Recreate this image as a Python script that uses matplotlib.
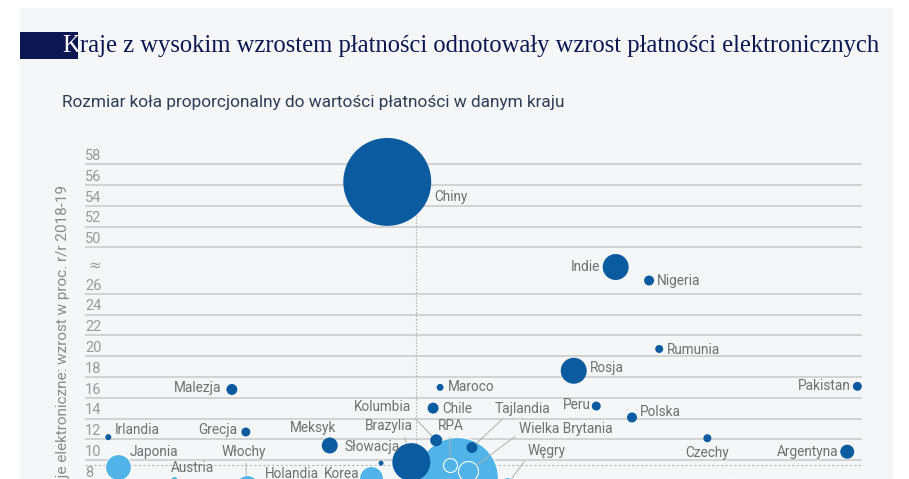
import matplotlib.pyplot as plt
from matplotlib.patches import Rectangle
import matplotlib.transforms as mtransforms

# dane (os x w umownych jednostkach 0-100)
kraje = ['Chiny', 'Indie', 'Nigeria', 'Rumunia', 'Rosja', 'Pakistan', 'Malezja', 'Maroco',
         'Peru', 'Chile', 'Polska', 'Czechy', 'Argentyna', 'Irlandia', 'Grecja', 'Meksyk',
         'Kolumbia', 'Tajlandia', 'Brazylia', 'Słowacja', 'RPA', 'USA', 'Wielka Brytania',
         'Węgry', 'Japonia', 'Austria', 'Włochy', 'Korea', 'Holandia', 'Hiszpania']
wzrost_ogolem = [38.9, 68.3, 72.6, 73.9, 62.9, 99.4, 18.9, 45.7,
                 65.8, 44.8, 70.4, 80.1, 98.1, 3.0, 20.7, 31.5,
                 45.2, 49.8, 42.0, 38.1, 47.0, 47.9, 49.3,
                 54.3, 4.2, 11.5, 20.8, 36.8, 26.3, 83.1]
wzrost_elektr = [56.3, 28.6, 27.3, 20.7, 18.6, 17.1, 16.8, 17.0,
                 15.2, 15.0, 14.1, 12.1, 10.8, 12.2, 12.7, 11.4,
                 11.9, 11.2, 9.8, 9.7, 9.5, 8.3, 8.9,
                 7.6, 9.3, 8.1, 7.4, 8.3, 6.0, 7.6]
wartosc = [1936, 169, 25, 16, 169, 20, 30, 12,
           20, 30, 25, 16, 49, 9, 20, 64,
           36, 30, 361, 6, 49, 1681, 100,
           64, 169, 16, 144, 144, 100, 49]
rozwiniete = [0, 0, 0, 0, 0, 0, 0, 0,
              0, 0, 0, 0, 0, 0, 0, 0,
              0, 0, 0, 0, 1, 1, 1,
              1, 1, 1, 1, 1, 1, 1]
y_ticks = [8, 10, 12, 14, 16, 18, 20, 22, 24, 26, 50, 52, 54, 56, 58]
srednia_x = 42.6
srednia_y = 9.5

# pozycje etykiet (przesuniecie w pikselach, wyrownanie, linia odniesienia)
etykiety = {
    'Chiny': (47, -15, 'left', None), 'Indie': (-16, 0, 'right', None),
    'Nigeria': (8, -1, 'left', None), 'Rumunia': (8, -1, 'left', None),
    'Rosja': (16, 3, 'left', None), 'Pakistan': (-7, 0, 'right', None),
    'Malezja': (-10, 1, 'right', None), 'Maroco': (8, 0, 'left', None),
    'Peru': (-6, 1, 'right', None), 'Chile': (9, -1, 'left', None),
    'Polska': (8, 5, 'left', None), 'Czechy': (0, -15, 'center', None),
    'Argentyna': (-9, 0, 'right', None), 'Irlandia': (6, 7, 'left', None),
    'Grecja': (-8, 2, 'right', None), 'Meksyk': (-17, 17, 'center', None),
    'Kolumbia': (-25, 33, 'right', (1.0, 0.0)), 'Tajlandia': (51, 39, 'center', (0.2, 0.0)),
    'Brazylia': (2, 36, 'right', (0.8, 0.0)), 'Słowacja': (-37, 16, 'left', None),
    'RPA': (1, 39, 'center', (0.45, 0.0)), 'Wielka Brytania': (51, 42, 'left', (0.0, 0.2)),
    'Węgry': (21, 34, 'left', (0.0, 0.1)), 'Japonia': (12, 15, 'left', None),
    'Austria': (-4, 12, 'left', None), 'Włochy': (-3, 35, 'center', (0.55, 0.0)),
    'Korea': (-11, 4, 'right', None), 'Holandia': (-24, 28, 'left', None),
}

CIEMNY = '#0a5ba0'
JASNY = '#50b4e8'
TLO = '#f5f6f8'
W, H = 909, 479


def brk(v):
    # os y z przerwa miedzy 26 a 50
    return v if v < 30 else v - 19.5


plt.rcParams['font.family'] = ['Roboto', 'DejaVu Sans']

fig = plt.figure(figsize=(W / 100, H / 100), dpi=100)
fig.patch.set_facecolor('white')
fig.add_artist(Rectangle((20 / W, 0), (893 - 20) / W, (H - 8) / H, transform=fig.transFigure,
                         facecolor=TLO, edgecolor='none', zorder=0))

# tytul: biale K na granatowym pasku, reszta obok
serif = ['Liberation Serif', 'DejaVu Serif']
fig.add_artist(Rectangle((20 / W, (H - 59) / H), 58 / W, 27 / H, transform=fig.transFigure,
                         facecolor='#0c1650', edgecolor='none', zorder=1))
k_txt = fig.text(62 / W, (H - 46) / H, 'K', color='white', fontsize=17.7, va='center',
                 ha='left', family=serif, zorder=3)
renderer = fig.canvas.get_renderer()
k_box = k_txt.get_window_extent(renderer)
fig.text(k_box.x1 / W, (H - 46) / H,
         'raje z wysokim wzrostem płatności odnotowały wzrost płatności elektronicznych',
         color='#0c1650', fontsize=17.7, va='center', ha='left', family=serif, zorder=2)
fig.text(62 / W, (H - 103) / H, 'Rozmiar koła proporcjonalny do wartości płatności w danym kraju',
         color='#2e3d55', fontsize=12.4, va='center', ha='left')
fig.text(63 / W, (H - 185) / H, 'Transakcje elektroniczne: wzrost w proc. r/r 2018-19',
         color='#8a8a8a', fontsize=11, rotation=90, va='top', ha='center')

ax = fig.add_axes([85 / W, 0, (862 - 85) / W, (H - 140) / H])
ax.patch.set_alpha(0)
for s in ax.spines.values():
    s.set_visible(False)
ax.set_xticks([])
ax.set_yticks([])
ax.set_xlim(0, 100)
ax.set_ylim(8.17, 40.84)

trans = mtransforms.blended_transform_factory(ax.transAxes, ax.transData)
for v in y_ticks:
    ax.axhline(brk(v), color='#cdcdcd', lw=1.2, zorder=1)
    ax.text(0.0, brk(v) + 0.12, str(v), transform=trans, color='#9a9a9a', fontsize=10.5,
            ha='left', va='bottom')
ax.text(0.004, 28.8, '≈', transform=trans, color='#9a9a9a', fontsize=11, ha='left', va='center',
        family=['DejaVu Sans'])

ax.axhline(srednia_y, color='#b5b5b5', lw=0.8, ls=(0, (2, 2)), zorder=1)
ax.plot([srednia_x, srednia_x], [8.17 - 1, brk(wzrost_elektr[0])], color='#b5b5b5', lw=0.8,
        ls=(0, (1.5, 1.5)), zorder=1)

# kola: najpierw jasne, potem ciemne, wieksze pod spodem
kolejnosc = sorted(range(len(kraje)), key=lambda i: (-rozwiniete[i], -wartosc[i]))
for i in kolejnosc:
    kolor = JASNY if rozwiniete[i] else CIEMNY
    ec = 'white' if rozwiniete[i] else 'none'
    ax.scatter(wzrost_ogolem[i], brk(wzrost_elektr[i]), s=wartosc[i] * 2.07, color=kolor,
               edgecolors=ec, linewidths=0.8, zorder=3, clip_on=False)

for i, k in enumerate(kraje):
    if k not in etykiety:
        continue
    dx, dy, ha, rel = etykiety[k]
    xy = (wzrost_ogolem[i], brk(wzrost_elektr[i]))
    props = None
    if rel is not None:
        r_pt = (wartosc[i] ** 0.5) * 0.72
        props = dict(arrowstyle='-', color='#b0b0b0', lw=0.7, relpos=rel,
                     shrinkA=1, shrinkB=r_pt)
    ax.annotate(k, xy=xy, xytext=(dx, dy), textcoords='offset pixels', ha=ha, va='center',
                color='#707070', fontsize=9.8, arrowprops=props, zorder=4,
                annotation_clip=False)

fig.savefig('out.png', dpi=100, facecolor=fig.get_facecolor())
